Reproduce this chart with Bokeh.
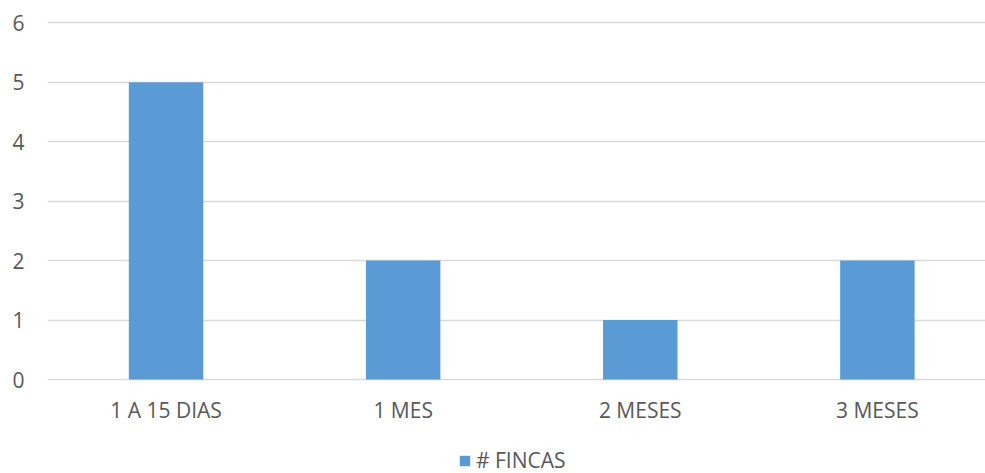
from bokeh.plotting import figure
from bokeh.models import Range1d, FixedTicker, Legend, LegendItem, ColumnDataSource
from bokeh.embed import file_html
from bokeh.resources import INLINE

categories = ["1 A 15 DIAS", "1 MES", "2 MESES", "3 MESES"]
fincas = [5, 2, 1, 2]
y_ticks = [0, 1, 2, 3, 4, 5, 6]
series_name = "# FINCAS"

xpos = list(range(len(categories)))
source = ColumnDataSource(dict(x=xpos, top=fincas, cat=categories))

FONT = "Open Sans"
TXT = "#595959"

p = figure(width=985, height=473, output_backend="svg", toolbar_location=None,
           x_range=Range1d(-0.5, 3.456), y_range=Range1d(-1.58, 6.02),
           min_border_left=47, min_border_right=0, min_border_top=21, min_border_bottom=0)

r = p.vbar(x="x", top="top", bottom=0, width=0.314, source=source,
           fill_color="#5B9BD5", line_color=None)

p.xaxis.ticker = FixedTicker(ticks=xpos)
p.xaxis.major_label_overrides = {i: c for i, c in enumerate(categories)}
p.xaxis.fixed_location = 0
p.yaxis.ticker = FixedTicker(ticks=y_ticks)
p.xgrid.visible = False
p.ygrid.ticker = FixedTicker(ticks=y_ticks)
p.ygrid.grid_line_color = "#D9D9D9"
p.ygrid.grid_line_width = 1.5

for ax in (p.xaxis[0], p.yaxis[0]):
    ax.axis_line_color = None
    ax.major_tick_line_color = None
    ax.minor_tick_line_color = None
    ax.major_tick_out = 0
    ax.major_tick_in = 0
    ax.major_label_text_font = FONT
    ax.major_label_text_font_size = "21px"
    ax.major_label_text_color = TXT
p.xaxis.major_label_standoff = 16
p.yaxis.major_label_standoff = 23
p.outline_line_color = None

legend = Legend(items=[LegendItem(label=series_name, renderers=[r])],
                location=(411, -1), orientation="horizontal",
                border_line_color=None, background_fill_alpha=0,
                padding=0, margin=0, spacing=0,
                glyph_width=13, glyph_height=13, label_standoff=5,
                label_text_font=FONT, label_text_font_size="21px",
                label_text_color=TXT)
p.add_layout(legend)

open("out.html", "w").write(file_html(p, INLINE))
